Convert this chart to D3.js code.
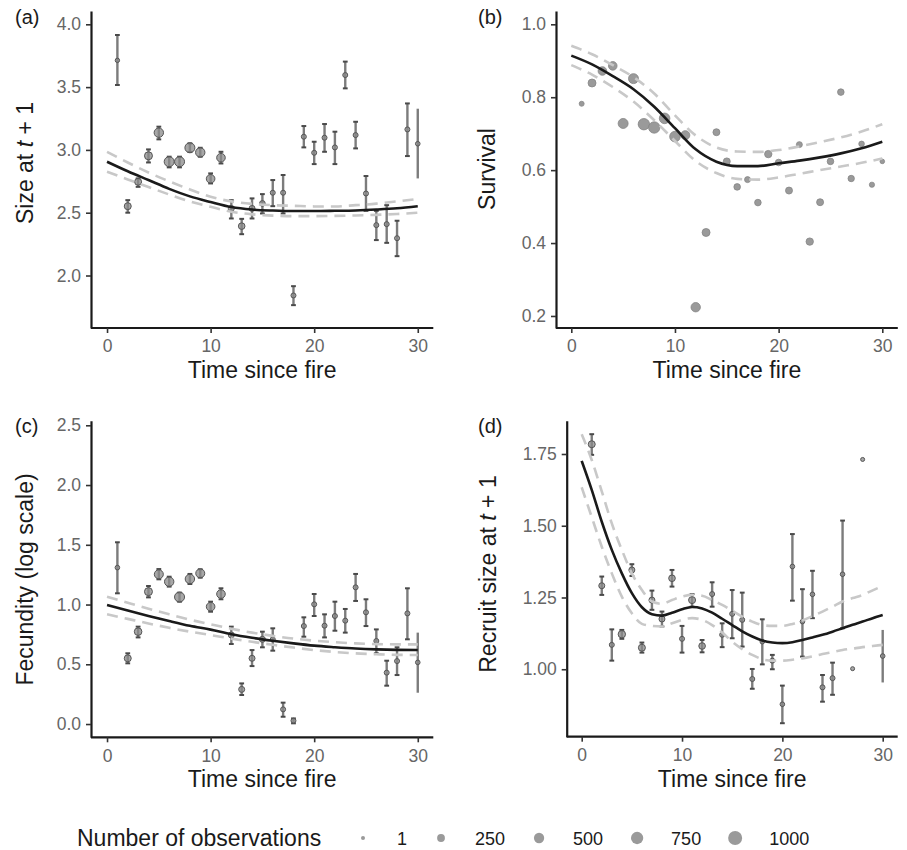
<!DOCTYPE html>
<html>
<head>
<meta charset="utf-8">
<script src="https://cdn.jsdelivr.net/npm/d3@7"></script>
<style>
body { margin: 0; background: #fff; }
text { font-family: "Liberation Sans", Arial, Helvetica, sans-serif; }
</style>
</head>
<body>
<svg id="chart" width="907" height="850"></svg>
<script>
// years since fire
const years = [1,2,3,4,5,6,7,8,9,10,11,12,13,14,15,16,17,18,19,20,21,22,23,24,25,26,27,28,29,30];
const uncappedYears = [30];

// (a) size at t+1
const sizeMean = [3.713,2.552,2.746,2.953,3.137,2.906,2.906,3.017,2.980,2.770,2.938,2.534,2.393,2.534,2.574,2.659,2.659,1.841,3.105,2.977,3.097,3.020,3.596,3.118,2.653,2.401,2.409,2.297,3.163,3.049];
const sizeLo   = [3.517,2.500,2.706,2.900,3.084,2.861,2.861,2.983,2.946,2.733,2.892,2.454,2.329,2.454,2.494,2.552,2.494,1.764,3.020,2.887,2.985,2.887,3.490,3.012,2.515,2.282,2.260,2.154,2.951,2.773];
const sizeHi   = [3.915,2.600,2.773,3.004,3.185,2.946,2.946,3.052,3.017,2.813,2.985,2.600,2.451,2.614,2.648,2.760,2.800,1.915,3.190,3.065,3.206,3.145,3.703,3.224,2.792,2.515,2.560,2.436,3.370,3.328];
const sizeN    = [20,184,184,267,402,467,467,467,402,322,322,112,154,112,90,51,51,51,51,51,51,51,51,51,51,51,51,51,51,30];

// (b) survival
const survMean = [0.782,0.839,0.872,0.886,0.728,0.851,0.726,0.717,0.742,0.692,0.696,0.224,0.429,0.704,0.624,0.554,0.574,0.511,0.644,0.621,0.544,0.670,0.404,0.512,0.624,0.814,0.577,0.672,0.560,0.624];
const survN    = [50,266,322,322,466,466,632,632,535,535,361,402,266,183,183,153,111,153,215,153,183,111,215,183,153,153,139,85,61,30];

// (c) fecundity (log scale)
const fecMean = [1.309,0.550,0.773,1.108,1.253,1.191,1.063,1.214,1.261,0.982,1.088,0.745,0.290,0.550,0.709,0.709,0.123,0.028,0.820,1.002,0.823,0.904,0.865,1.144,0.935,0.695,0.430,0.527,0.926,0.516];
const fecLo   = [1.094,0.508,0.725,1.060,1.211,1.150,1.024,1.172,1.225,0.940,1.044,0.670,0.243,0.485,0.642,0.614,0.061,0.006,0.731,0.904,0.725,0.781,0.765,1.030,0.820,0.592,0.321,0.410,0.709,0.262];
const fecHi   = [1.521,0.592,0.815,1.155,1.297,1.233,1.099,1.256,1.295,1.024,1.136,0.815,0.340,0.619,0.773,0.801,0.179,0.047,0.893,1.088,0.918,1.024,0.963,1.256,1.044,0.792,0.530,0.642,1.136,0.765];
const fecN    = [30,184,232,267,361,402,467,402,361,322,322,112,112,112,112,51,51,51,51,51,51,51,51,51,51,51,51,51,51,30];

// (d) recruit size at t+1
const recMean = [1.784,1.291,1.085,1.122,1.346,1.075,1.241,1.175,1.317,1.106,1.241,1.081,1.262,1.120,1.193,1.172,0.966,1.096,1.030,0.878,1.358,1.166,1.261,0.937,0.969,1.331,1.002,1.731,null,1.046];
const recLo   = [1.747,1.259,1.030,1.106,1.325,1.058,1.207,1.149,1.288,1.058,1.218,1.059,1.218,1.077,1.108,1.079,0.932,1.017,1.000,0.812,1.239,1.044,1.178,0.887,0.911,1.143,null,null,null,0.954];
const recHi   = [1.819,1.323,1.139,1.137,1.366,1.093,1.274,1.201,1.346,1.151,1.262,1.102,1.303,1.160,1.276,1.267,1.001,1.174,1.050,0.943,1.471,1.279,1.343,0.980,1.023,1.518,null,null,null,1.137];
const recN    = [184,112,51,216,112,184,112,112,154,51,184,154,51,51,51,51,51,30,51,30,30,30,30,51,51,30,1,1,null,30];

// fitted smooths with confidence bands
const fitT = [0,2,4,6,8,10,12,14,16,18,20,22,24,26,28,30];
const sizeFit   = [2.906,2.830,2.760,2.690,2.630,2.585,2.545,2.525,2.517,2.513,2.513,2.515,2.518,2.525,2.535,2.552];
const sizeFitHi = [2.985,2.900,2.820,2.750,2.685,2.627,2.590,2.570,2.560,2.555,2.550,2.550,2.560,2.572,2.590,2.610];
const sizeFitLo = [2.826,2.765,2.705,2.645,2.590,2.547,2.508,2.487,2.477,2.473,2.473,2.475,2.478,2.483,2.490,2.500];
const survFit   = [0.914,0.890,0.858,0.822,0.774,0.715,0.657,0.623,0.611,0.611,0.619,0.626,0.635,0.646,0.660,0.678];
const survFitHi = [0.941,0.918,0.888,0.855,0.810,0.750,0.695,0.662,0.651,0.650,0.655,0.665,0.677,0.690,0.706,0.726];
const survFitLo = [0.888,0.862,0.828,0.788,0.737,0.680,0.625,0.592,0.576,0.574,0.580,0.590,0.600,0.610,0.620,0.632];
const fecFit    = [0.996,0.950,0.905,0.862,0.822,0.790,0.752,0.722,0.697,0.675,0.656,0.643,0.632,0.625,0.621,0.619];
const fecFitHi  = [1.066,1.015,0.965,0.918,0.873,0.835,0.798,0.765,0.738,0.715,0.698,0.685,0.675,0.669,0.667,0.667];
const fecFitLo  = [0.918,0.880,0.842,0.805,0.773,0.745,0.715,0.688,0.663,0.640,0.619,0.603,0.591,0.584,0.579,0.578];

const fitTd = [0,1,2,3,4,5,6,7,8,9,10,11,12,13,14,15,16,17,18,19,20,21,22,23,24,25,26,27,28,29,30];
const recFit   = [1.726,1.625,1.514,1.416,1.334,1.265,1.216,1.192,1.187,1.197,1.209,1.217,1.212,1.197,1.176,1.154,1.132,1.114,1.100,1.093,1.091,1.094,1.102,1.111,1.120,1.131,1.143,1.155,1.166,1.178,1.189];
const recFitHi = [1.819,1.729,1.620,1.508,1.416,1.334,1.276,1.236,1.228,1.241,1.253,1.259,1.256,1.241,1.224,1.204,1.183,1.166,1.154,1.151,1.151,1.158,1.170,1.185,1.201,1.218,1.236,1.248,1.259,1.275,1.290];
const recFitLo = [1.634,1.530,1.427,1.334,1.253,1.195,1.158,1.151,1.149,1.160,1.172,1.178,1.172,1.154,1.128,1.096,1.070,1.050,1.035,1.030,1.030,1.033,1.038,1.045,1.053,1.060,1.067,1.072,1.077,1.081,1.085];

// legend
const legendValues = [1, 250, 500, 750, 1000];

const xTicks = [0, 10, 20, 30];

const svg = d3.select("#chart");
const rScale = d3.scaleRadial().domain([1, 1000]).range([2, 7]);

const panels = [
    {label: "(a)", lx: 15, ly: 24, box: [91, 11, 433.3, 328], xr: [91.5, 433.3], yDom: [1.582, 4.106],
     yTicks: [2, 2.5, 3, 3.5, 4], fmt: ".1f", title: ["Size at ", "t", " + 1"], tx: 33, ty: 163, xt: 378,
     mean: sizeMean, lo: sizeLo, hi: sizeHi, n: sizeN, ft: fitT, fit: sizeFit, fitHi: sizeFitHi, fitLo: sizeFitLo},
    {label: "(b)", lx: 478, ly: 24, box: [556, 11, 897.8, 328], xr: [555.75, 897.85], yDom: [0.167, 1.0365],
     yTicks: [0.2, 0.4, 0.6, 0.8, 1.0], fmt: ".1f", title: ["Survival"], tx: 495, ty: 169, xt: 378,
     mean: survMean, lo: null, hi: null, n: survN, ft: fitT, fit: survFit, fitHi: survFitHi, fitLo: survFitLo},
    {label: "(c)", lx: 15, ly: 433, box: [91, 420.7, 433.3, 737.3], xr: [91.5, 433.3], yDom: [-0.111, 2.5385],
     yTicks: [0, 0.5, 1, 1.5, 2, 2.5], fmt: ".1f", title: ["Fecundity (log scale)"], tx: 33, ty: 579.5, xt: 787,
     mean: fecMean, lo: fecLo, hi: fecHi, n: fecN, ft: fitT, fit: fecFit, fitHi: fecFitHi, fitLo: fecFitLo},
    {label: "(d)", lx: 478, ly: 433, box: [566.7, 420.7, 897.7, 736.7], xr: [566.65, 897.75], yDom: [0.765, 1.866],
     yTicks: [1, 1.25, 1.5, 1.75], fmt: ".2f", title: ["Recruit size at ", "t", " + 1"], tx: 496, ty: 574, xt: 787,
     mean: recMean, lo: recLo, hi: recHi, n: recN, ft: fitTd, fit: recFit, fitHi: recFitHi, fitLo: recFitLo}
];

function drawPanel(p) {
    const [bx0, by0, bx1, by1] = p.box;
    const x = d3.scaleLinear([-1.5, 31.5], p.xr);
    const y = d3.scaleLinear(p.yDom, [by1, by0]);
    const g = svg.append("g");

    const pts = years.map((t, i) => ({t, m: p.mean[i], lo: p.lo ? p.lo[i] : null, hi: p.hi ? p.hi[i] : null, n: p.n[i]}))
        .filter(d => d.m != null);

    if (p.lo) {
        // error bars
        const bars = pts.filter(d => d.lo != null);
        g.selectAll("line.err").data(bars).enter().append("line")
            .attr("x1", d => x(d.t)).attr("x2", d => x(d.t))
            .attr("y1", d => y(d.lo)).attr("y2", d => y(d.hi))
            .attr("stroke", "#7c7c7c").attr("stroke-width", 2.4);
        const capped = bars.filter(d => !uncappedYears.includes(d.t));
        ["lo", "hi"].forEach(k => {
            g.selectAll("line.cap" + k).data(capped).enter().append("line")
                .attr("x1", d => x(d.t) - 2.4).attr("x2", d => x(d.t) + 2.4)
                .attr("y1", d => y(d[k])).attr("y2", d => y(d[k]))
                .attr("stroke", "#4a4a4a").attr("stroke-width", 2);
        });
        g.selectAll("circle.pt").data(pts).enter().append("circle")
            .attr("cx", d => x(d.t)).attr("cy", d => y(d.m))
            .attr("r", d => rScale(d.n))
            .attr("fill", "#8a8a8a").attr("fill-opacity", 0.75)
            .attr("stroke", "#555").attr("stroke-width", 1);
    } else {
        g.selectAll("circle.pt").data(pts).enter().append("circle")
            .attr("cx", d => x(d.t)).attr("cy", d => y(d.m))
            .attr("r", d => rScale(d.n))
            .attr("fill", "#9a9a9a")
            .attr("stroke", "#858585").attr("stroke-width", 0.8);
    }

    // fitted curve + band
    const line = d3.line().x(d => x(d[0])).y(d => y(d[1])).curve(d3.curveMonotoneX);
    [p.fitHi, p.fitLo].forEach(arr => {
        g.append("path").datum(p.ft.map((t, i) => [t, arr[i]]))
            .attr("d", line).attr("fill", "none")
            .attr("stroke", "#c8c8c8").attr("stroke-width", 2.6)
            .attr("stroke-dasharray", "11,7");
    });
    g.append("path").datum(p.ft.map((t, i) => [t, p.fit[i]]))
        .attr("d", line).attr("fill", "none")
        .attr("stroke", "#1a1a1a").attr("stroke-width", 2.6);

    // axes
    const ax = g.append("g").attr("transform", `translate(0,${by1})`)
        .call(d3.axisBottom(x).tickValues(xTicks).tickSize(5).tickSizeOuter(0).tickPadding(7));
    const ay = g.append("g").attr("transform", `translate(${bx0},0)`)
        .call(d3.axisLeft(y).tickValues(p.yTicks).tickFormat(d3.format(p.fmt)).tickSize(5).tickSizeOuter(0).tickPadding(5));
    ax.select(".domain").attr("d", `M${bx0},0H${bx1}`);
    [ax, ay].forEach(a => {
        a.select(".domain").attr("stroke", "#1a1a1a").attr("stroke-width", 2.2);
        a.selectAll(".tick line").attr("stroke", "#333").attr("stroke-width", 1.6);
        a.selectAll(".tick text").attr("fill", "#666").style("font-size", "17.5px")
            .style("font-family", '"Liberation Sans", Arial, sans-serif');
    });

    // titles
    g.append("text").attr("x", (bx0 + bx1) / 2).attr("y", p.xt)
        .attr("text-anchor", "middle").style("font-size", "23px").attr("fill", "#1a1a1a")
        .text("Time since fire");
    const yt = g.append("text").attr("transform", `translate(${p.tx},${p.ty}) rotate(-90)`)
        .attr("text-anchor", "middle").style("font-size", "23px").attr("fill", "#1a1a1a");
    p.title.forEach((s, i) => {
        yt.append("tspan").style("font-style", i === 1 ? "italic" : "normal").text(s);
    });
    g.append("text").attr("x", p.lx).attr("y", p.ly)
        .style("font-size", "20px").attr("fill", "#1a1a1a").text(p.label);
}

panels.forEach(drawPanel);

// legend
const lg = svg.append("g");
lg.append("text").attr("x", 77).attr("y", 846)
    .style("font-size", "23px").attr("fill", "#1a1a1a").text("Number of observations");
let lx = 363;
legendValues.forEach(v => {
    lg.append("circle").attr("cx", lx).attr("cy", 838).attr("r", rScale(v))
        .attr("fill", "#9a9a9a");
    const t = lg.append("text").attr("x", lx + 34).attr("y", 845)
        .style("font-size", "18px").attr("fill", "#1a1a1a").text(v);
    lx = lx + 34 + t.node().getComputedTextLength() + 34;
});
</script>
</body>
</html>
